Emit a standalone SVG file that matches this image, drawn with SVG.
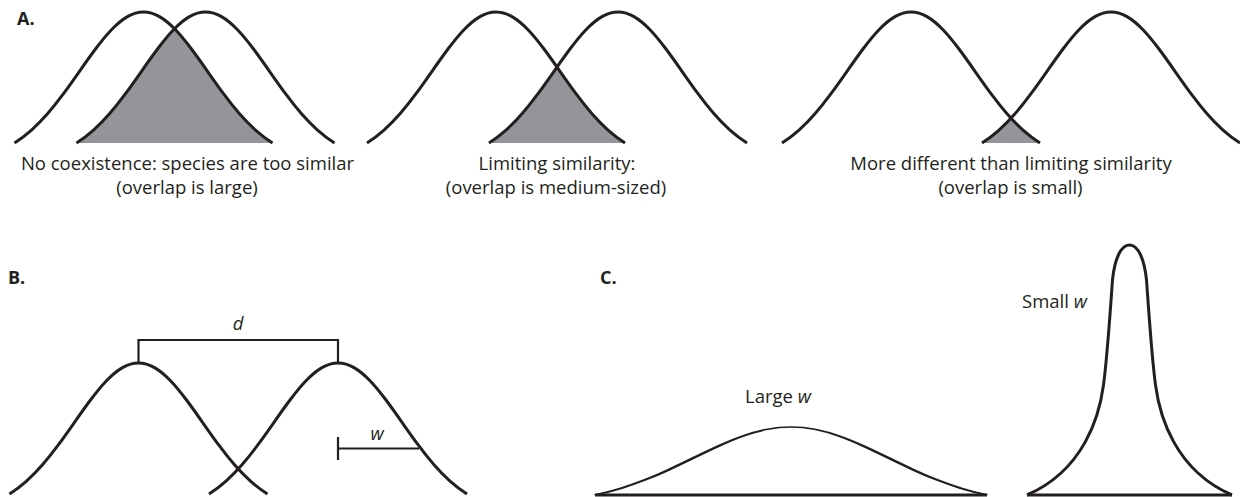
<svg xmlns="http://www.w3.org/2000/svg" xmlns:xlink="http://www.w3.org/1999/xlink" width="1240" height="497" viewBox="0 0 1240 497">
<style>
.curve{fill:none;stroke:#231f20;stroke-width:3;stroke-linejoin:round}
.ns{vector-effect:non-scaling-stroke}
.thin{fill:none;stroke:#231f20;stroke-width:2.2}
.base{fill:none;stroke:#231f20;stroke-width:3}
.shade{fill:#939598;stroke:none}
.t{font-family:"Open Sans","Noto Sans",sans-serif;font-size:18.5px;fill:#231f20}
.c{text-anchor:middle}
.lab{font-family:"Open Sans","Noto Sans",sans-serif;font-size:18px;font-weight:bold;fill:#231f20}
.it{font-style:italic}
</style>
<defs>
<path id="g" d="M-129,0 C-123.33,-3.53 -117.67,-7.85 -112,-12.9 C-106.67,-17.66 -101.33,-23.08 -96,-29.2 C-90.67,-35.32 -85.33,-42.11 -80,-49.3 C-74.67,-56.49 -69.33,-64.08 -64,-71.7 C-58.67,-79.32 -53.33,-86.89 -48,-94 C-42.67,-101.11 -37.33,-107.76 -32,-113.3 C-26.67,-118.84 -21.33,-123.36 -16,-126.4 C-10.67,-129.44 -5.33,-131 0,-131 C5.33,-131 10.67,-129.44 16,-126.4 C21.33,-123.36 26.67,-118.84 32,-113.3 C37.33,-107.76 42.67,-101.11 48,-94 C53.33,-86.89 58.67,-79.32 64,-71.7 C69.33,-64.08 74.67,-56.49 80,-49.3 C85.33,-42.11 90.67,-35.32 96,-29.2 C101.33,-23.08 106.67,-17.66 112,-12.9 C117.67,-7.85 123.33,-3.53 129,0"/>
<path id="gc" d="M-129,0 C-123.33,-3.53 -117.67,-7.85 -112,-12.9 C-106.67,-17.66 -101.33,-23.08 -96,-29.2 C-90.67,-35.32 -85.33,-42.11 -80,-49.3 C-74.67,-56.49 -69.33,-64.08 -64,-71.7 C-58.67,-79.32 -53.33,-86.89 -48,-94 C-42.67,-101.11 -37.33,-107.76 -32,-113.3 C-26.67,-118.84 -21.33,-123.36 -16,-126.4 C-10.67,-129.44 -5.33,-131 0,-131 C5.33,-131 10.67,-129.44 16,-126.4 C21.33,-123.36 26.67,-118.84 32,-113.3 C37.33,-107.76 42.67,-101.11 48,-94 C53.33,-86.89 58.67,-79.32 64,-71.7 C69.33,-64.08 74.67,-56.49 80,-49.3 C85.33,-42.11 90.67,-35.32 96,-29.2 C101.33,-23.08 106.67,-17.66 112,-12.9 C117.67,-7.85 123.33,-3.53 129,0 Z"/>
<path id="narrow" d="M-102.5,0 C-45,-25 -30,-80 -26,-110 C-22,-140 -18.5,-195 -17,-215 C-15,-235 -9,-250 0,-250 C9,-250 15,-235 17,-215 C18.5,-195 22,-140 26,-110 C30,-80 45,-25 102.5,0"/>
<clipPath id="clipA1"><use xlink:href="#gc" transform="translate(205.5,143)"/></clipPath>
<clipPath id="clipA2"><use xlink:href="#gc" transform="translate(618,143)"/></clipPath>
<clipPath id="clipA3"><use xlink:href="#gc" transform="translate(1111,143)"/></clipPath>
</defs>

<g id="panel-A">
  <text class="lab" x="17" y="25">A.</text>
  <g id="A1">
    <g clip-path="url(#clipA1)"><use xlink:href="#gc" class="shade" transform="translate(143.5,143)"/></g>
    <use xlink:href="#g" class="curve" transform="translate(143.5,143)"/>
    <use xlink:href="#g" class="curve" transform="translate(205.5,143)"/>
    <text class="t c" x="187.5" y="169.5">No coexistence: species are too similar</text>
    <text class="t c" x="187" y="194">(overlap is large)</text>
  </g>
  <g id="A2">
    <g clip-path="url(#clipA2)"><use xlink:href="#gc" class="shade" transform="translate(496,143)"/></g>
    <use xlink:href="#g" class="curve" transform="translate(496,143)"/>
    <use xlink:href="#g" class="curve" transform="translate(618,143)"/>
    <text class="t c" x="557" y="169.5">Limiting similarity:</text>
    <text class="t c" x="556" y="194">(overlap is medium-sized)</text>
  </g>
  <g id="A3">
    <g clip-path="url(#clipA3)"><use xlink:href="#gc" class="shade" transform="translate(911,143)"/></g>
    <use xlink:href="#g" class="curve" transform="translate(911,143)"/>
    <use xlink:href="#g" class="curve" transform="translate(1111,143)"/>
    <text class="t c" x="1011" y="169.5">More different than limiting similarity</text>
    <text class="t c" x="1010.5" y="194">(overlap is small)</text>
  </g>
</g>

<g id="panel-B">
  <text class="lab" x="8" y="284">B.</text>
  <use xlink:href="#g" class="curve" transform="translate(138.5,494)"/>
  <use xlink:href="#g" class="curve" transform="translate(338,494)"/>
  <g id="connectors">
    <path class="thin" d="M138.5,362 V340 H338 V362"/>
    <path class="thin" d="M338,437 V460 M338,448.5 H419"/>
  </g>
  <text class="t it c" x="238" y="330">d</text>
  <text class="t it c" x="377" y="440">w</text>
</g>

<g id="panel-C">
  <text class="lab" x="600" y="284">C.</text>
  <g id="large-w">
    <path class="base" d="M595,495 H987"/>
    <use xlink:href="#g" class="curve ns" transform="translate(791,495) scale(1.5194,0.519)"/>
    <text class="t" x="745" y="403">Large <tspan class="it">w</tspan></text>
  </g>
  <g id="small-w">
    <path class="base" d="M1027,495 H1232"/>
    <use xlink:href="#narrow" class="curve" transform="translate(1129.5,495)"/>
    <text class="t" x="1022" y="308">Small <tspan class="it">w</tspan></text>
  </g>
</g>
</svg>
